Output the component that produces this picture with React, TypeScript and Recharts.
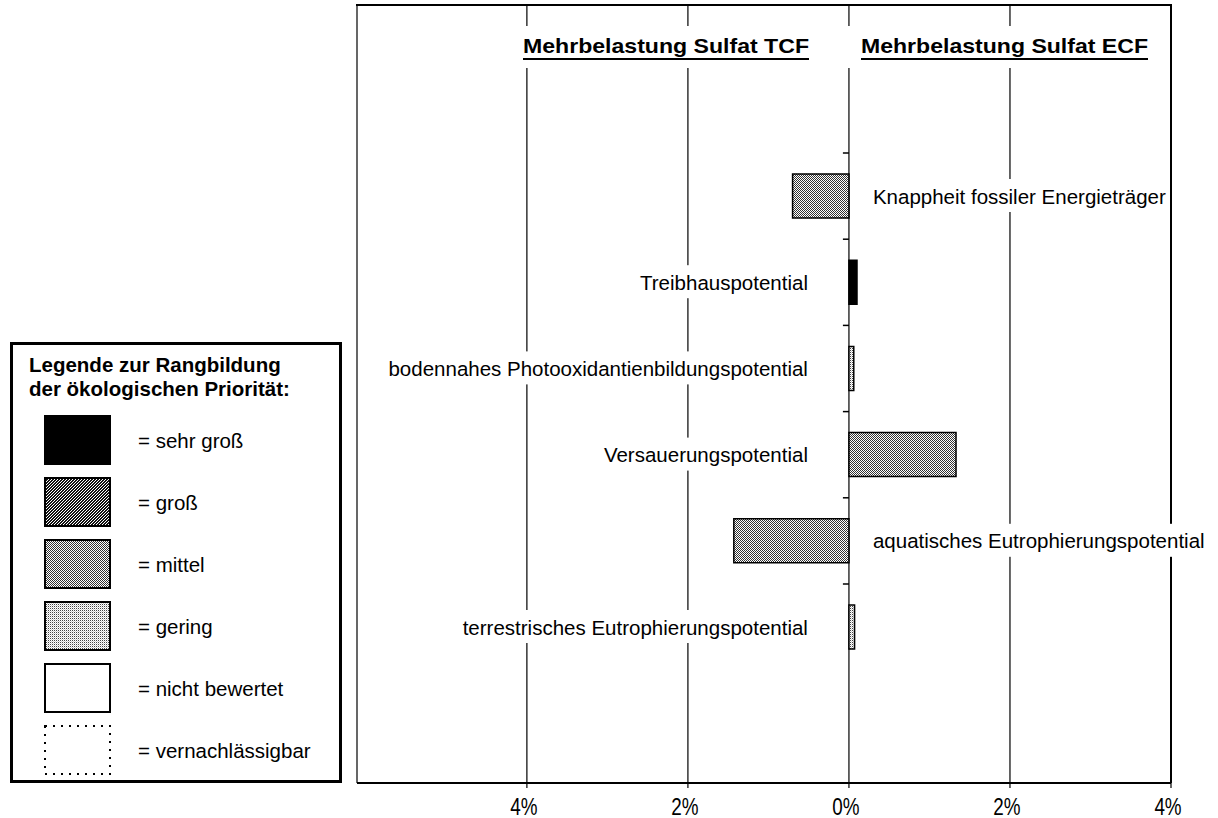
import React from 'react';
import {
  BarChart,
  Bar,
  XAxis,
  YAxis,
  CartesianGrid,
  Cell,
  LabelList,
  ReferenceLine,
} from 'recharts';

// ---------- data ----------
const categories = [
  'Knappheit fossiler Energieträger',
  'Treibhauspotential',
  'bodennahes Photooxidantienbildungspotential',
  'Versauerungspotential',
  'aquatisches Eutrophierungspotential',
  'terrestrisches Eutrophierungspotential',
];
const values = [-0.7, 0.1, 0.06, 1.33, -1.43, 0.07];
const priorities = ['mittel', 'sehrGross', 'gering', 'mittel', 'mittel', 'gering'];

const xTicks = [-4, -2, 0, 2, 4];
const xDomain: [number, number] = [-6.11, 4];

const titles = ['Mehrbelastung Sulfat TCF', 'Mehrbelastung Sulfat ECF'];

const legendTitle = ['Legende zur Rangbildung', 'der ökologischen Priorität:'];
const legendKeys = ['sehrGross', 'gross', 'mittel', 'gering', 'nichtBewertet', 'vernachlaessigbar'];
const legendLabels = ['= sehr groß', '= groß', '= mittel', '= gering', '= nicht bewertet', '= vernachlässigbar'];

const data = categories.map((name, i) => ({ name, value: values[i], priority: priorities[i] }));

const fills: Record<string, string> = {
  sehrGross: '#000',
  gross: 'url(#pat-gross)',
  mittel: 'url(#pat-mittel)',
  gering: 'url(#pat-gering)',
  nichtBewertet: '#fff',
  vernachlaessigbar: '#fff',
};

const FONT = '"Liberation Sans", Arial, Helvetica, sans-serif';
const LABEL_SIZE = 20.5;

let ctx: CanvasRenderingContext2D | null = null;
function measure(text: string, font: string): number {
  if (!ctx) {
    const c = document.createElement('canvas');
    ctx = c.getContext('2d');
  }
  if (!ctx) return text.length * 10;
  ctx.font = font;
  return ctx.measureText(text).width;
}

const XTick = (props: any) => {
  const { x, y, payload } = props;
  const v = Math.abs(Number(payload.value));
  return (
    <text
      transform={`translate(${x - 3},${y + 25}) scale(0.82,1)`}
      textAnchor="middle"
      fontSize={23}
      fontFamily={FONT}
      fill="#000"
    >
      {`${v}%`}
    </text>
  );
};

const BarLabel = (props: any) => {
  const vb = props.viewBox || props;
  const name = String(props.value);
  const i = categories.indexOf(name);
  if (i < 0) return null;
  const v = values[i];
  const x = Number(vb.x);
  const w = Number(vb.width);
  const y = Number(vb.y);
  const h = Number(vb.height);
  const cy = y + h / 2;
  const tw = measure(name, `${LABEL_SIZE}px "Liberation Sans"`);
  let tx: number;
  let anchor: 'start' | 'end';
  let bx: number;
  if (v < 0) {
    const zero = Math.max(x, x + w);
    tx = zero + 24;
    anchor = 'start';
    bx = tx - 4;
  } else {
    const zero = Math.min(x, x + w);
    tx = zero - 41;
    anchor = 'end';
    bx = tx - tw - 4;
  }
  return (
    <g>
      <rect x={bx} y={cy - 17} width={tw + 8} height={33} fill="#fff" />
      <text
        x={tx}
        y={cy}
        textAnchor={anchor}
        dominantBaseline="central"
        fontSize={LABEL_SIZE}
        fontFamily={FONT}
        fill="#000"
      >
        {name}
      </text>
    </g>
  );
};

const Patterns = () => (
  <svg width={0} height={0} style={{ position: 'absolute', left: 0, top: 0 }}>
    <defs>
      <pattern id="pat-mittel" patternUnits="userSpaceOnUse" width={2} height={2}>
        <rect x={0} y={0} width={2} height={2} fill="#fff" />
        <rect x={0} y={0} width={1} height={1} fill="#333" />
        <rect x={1} y={1} width={1} height={1} fill="#333" />
      </pattern>
      <pattern id="pat-gross" patternUnits="userSpaceOnUse" width={3} height={3}>
        <rect x={0} y={0} width={3} height={3} fill="#111" />
        <rect x={0} y={2} width={1} height={1} fill="#fff" />
        <rect x={1} y={1} width={1} height={1} fill="#fff" />
        <rect x={2} y={0} width={1} height={1} fill="#fff" />
      </pattern>
      <pattern id="pat-gering" patternUnits="userSpaceOnUse" width={2} height={2}>
        <rect x={0} y={0} width={2} height={2} fill="#fff" />
        <rect x={0} y={0} width={1} height={1} fill="#444" />
        <rect x={1} y={1} width={1} height={1} fill="#ccc" />
      </pattern>
    </defs>
  </svg>
);

// Titles above the plot (text annotations, with a white band interrupting the grid lines)
const TitleOverlay = () => {
  const spans: [number, number][] = [
    [523, 286],
    [861, 287],
  ];
  return (
    <svg width={1218} height={818} style={{ position: 'absolute', left: 0, top: 0, pointerEvents: 'none' }}>
      <line x1={356} x2={1172} y1={5} y2={5} stroke="#000" strokeWidth={2} />
      <rect x={519} y={26} width={632} height={42} fill="#fff" />
      {titles.map((t, i) => (
        <g key={t}>
          <text
            x={spans[i][0]}
            y={53}
            textLength={spans[i][1]}
            lengthAdjust="spacingAndGlyphs"
            fontSize={21}
            fontWeight="bold"
            fontFamily={FONT}
            fill="#000"
          >
            {t}
          </text>
          <line x1={spans[i][0]} x2={spans[i][0] + spans[i][1]} y1={59} y2={59} stroke="#000" strokeWidth={2} />
        </g>
      ))}
    </svg>
  );
};

const LegendBox = () => {
  const top0 = 416;
  const step = 62;
  return (
    <svg width={360} height={818} style={{ position: 'absolute', left: 0, top: 0 }}>
      <rect x={11.5} y={343.5} width={329} height={438} fill="#fff" stroke="#000" strokeWidth={3} />
      {legendTitle.map((t, i) => (
        <text key={t} x={29} y={372 + i * 24} fontSize={20.5} fontWeight="bold" fontFamily={FONT} fill="#000">
          {t}
        </text>
      ))}
      {legendKeys.map((k, i) => {
        const y = top0 + i * step;
        const dotted = k === 'vernachlaessigbar';
        return (
          <g key={k}>
            <rect
              x={45}
              y={y}
              width={65}
              height={48}
              fill={fills[k]}
              stroke="#000"
              strokeWidth={2}
              strokeDasharray={dotted ? '2 6' : undefined}
            />
            <text x={138} y={y + 24} dominantBaseline="central" fontSize={LABEL_SIZE} fontFamily={FONT} fill="#000">
              {legendLabels[i]}
            </text>
          </g>
        );
      })}
    </svg>
  );
};

export default function App() {
  return (
    <div style={{ position: 'absolute', left: 0, top: 0, width: 1218, height: 818, background: '#fff' }}>
      <Patterns />
      <BarChart
        width={1218}
        height={818}
        data={data}
        layout="vertical"
        margin={{ top: 5, right: 47, bottom: 5, left: 357 }}
        barSize={44}
      >
        <CartesianGrid horizontal={false} vertical stroke="#000" strokeWidth={1.2} />
        <XAxis
          type="number"
          domain={xDomain}
          ticks={xTicks}
          allowDataOverflow
          interval={0}
          height={30}
          tickSize={5}
          tickLine={{ stroke: '#000', strokeWidth: 1.2 }}
          axisLine={{ stroke: '#000', strokeWidth: 2 }}
          tick={<XTick />}
        />
        <YAxis
          type="category"
          dataKey="name"
          width={0}
          tick={false}
          tickLine={false}
          axisLine={{ stroke: '#000', strokeWidth: 2.5 }}
          padding={{ top: 148, bottom: 112.8 }}
        />
        {/* right frame border at the 4 % end of the value axis */}
        <ReferenceLine x={xDomain[1]} stroke="#000" strokeWidth={2} />
        {/* short category tick marks on the zero line at the start of each band */}
        {categories.map((c) => (
          <ReferenceLine
            key={c}
            position="start"
            ifOverflow="visible"
            segment={[
              { x: -0.075, y: c },
              { x: 0, y: c },
            ]}
            stroke="#000"
            strokeWidth={1.5}
          />
        ))}
        <Bar dataKey="value" stroke="#000" strokeWidth={1.5} isAnimationActive={false}>
          {data.map((d) => (
            <Cell key={d.name} fill={fills[d.priority]} />
          ))}
          <LabelList dataKey="name" content={<BarLabel />} />
        </Bar>
      </BarChart>
      <TitleOverlay />
      <LegendBox />
    </div>
  );
}
